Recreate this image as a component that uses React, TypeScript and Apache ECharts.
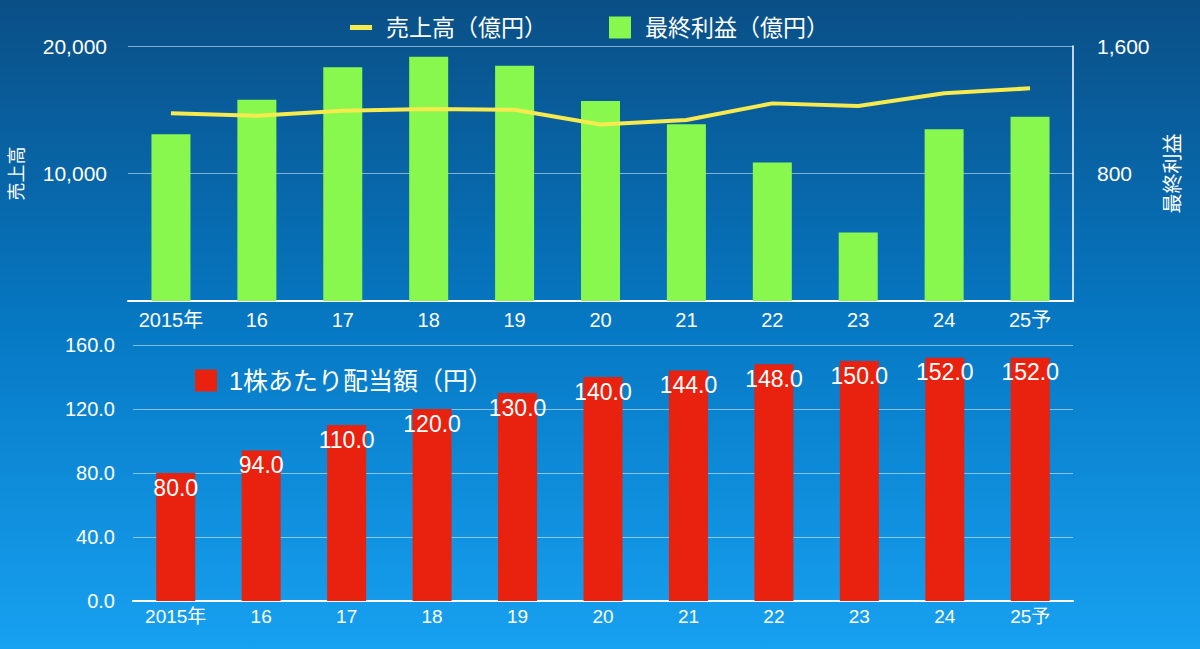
import React, { useEffect, useRef } from "react";
import * as echarts from "echarts";

const years = ["2015年", "16", "17", "18", "19", "20", "21", "22", "23", "24", "25予"];
const salesOku = [14720, 14530, 14930, 15050, 15000, 13850, 14190, 15500, 15300, 16300, 16680];
const profitOku = [1047, 1263, 1466, 1533, 1476, 1255, 1109, 869, 430, 1077, 1156];
const dividendYen = [80, 94, 110, 120, 130, 140, 144, 148, 150, 152, 152];

const salesName = "売上高（億円）";
const profitName = "最終利益（億円）";
const dividendName = "1株あたり配当額（円）";

const FONT = "'Liberation Sans', 'Noto Sans CJK JP', sans-serif";
const WHITE = "#ffffff";
const GRID_LINE = "rgba(255,255,255,0.5)";

export default function App() {
  const ref = useRef<HTMLDivElement>(null);

  useEffect(() => {
    if (!ref.current) return;
    const chart = echarts.init(ref.current, undefined, { renderer: "svg" });
    const option: any = {
      animation: false,
      backgroundColor: {
        type: "linear",
        x: 0,
        y: 0,
        x2: 0,
        y2: 1,
        colorStops: [
          { offset: 0, color: "#0a4f86" },
          { offset: 0.5, color: "#0678c3" },
          { offset: 1, color: "#17a1f1" },
        ],
      },
      textStyle: { fontFamily: FONT },
      legend: [
        {
          data: [{ name: salesName, icon: "path://M0,0H22V5H0Z" }],
          left: 345,
          top: 11,
          itemWidth: 22,
          itemHeight: 22,
          textStyle: { color: WHITE, fontSize: 23, fontFamily: FONT, padding: [0, 0, 0, 9] },
        },
        {
          data: [{ name: profitName, icon: "rect" }],
          left: 604,
          top: 11,
          itemWidth: 22,
          itemHeight: 22,
          textStyle: { color: WHITE, fontSize: 23, fontFamily: FONT, padding: [0, 0, 0, 9] },
        },
        {
          data: [{ name: dividendName, icon: "rect" }],
          left: 190,
          top: 363,
          itemWidth: 22,
          itemHeight: 22,
          textStyle: { color: WHITE, fontSize: 25, fontFamily: FONT, padding: [0, 0, 0, 7] },
        },
      ],
      grid: [
        { left: 128, right: 127, top: 46, bottom: 348 },
        { left: 133, right: 127, top: 345, bottom: 48 },
      ],
      xAxis: [
        {
          type: "category",
          gridIndex: 0,
          data: years,
          axisLine: { show: true, lineStyle: { color: WHITE, width: 2 } },
          axisTick: { show: false },
          axisLabel: { color: WHITE, fontSize: 20, fontFamily: FONT, margin: 9, interval: 0 },
        },
        {
          type: "category",
          gridIndex: 1,
          data: years,
          axisLine: { show: true, lineStyle: { color: WHITE, width: 2 } },
          axisTick: { show: false },
          axisLabel: { color: WHITE, fontSize: 19, fontFamily: FONT, margin: 6, interval: 0 },
        },
      ],
      yAxis: [
        {
          type: "value",
          gridIndex: 0,
          min: 0,
          max: 20000,
          interval: 10000,
          name: "売上高",
          nameLocation: "middle",
          nameRotate: 90,
          nameGap: 102,
          nameTextStyle: { color: WHITE, fontSize: 18, fontFamily: FONT },
          axisLine: { show: false },
          axisTick: { show: false },
          axisLabel: {
            color: WHITE,
            fontSize: 21,
            fontFamily: FONT,
            margin: 21,
            showMinLabel: false,
            formatter: (v: number) => (v === 0 ? "" : v.toLocaleString("en-US")),
          },
          splitLine: { show: true, lineStyle: { color: GRID_LINE, width: 1 } },
        },
        {
          type: "value",
          gridIndex: 0,
          position: "right",
          min: 0,
          max: 1600,
          interval: 800,
          name: "最終利益",
          nameLocation: "middle",
          nameRotate: 90,
          nameGap: 90,
          nameTextStyle: { color: WHITE, fontSize: 20, fontFamily: FONT },
          axisLine: { show: true, lineStyle: { color: WHITE, width: 1.5 } },
          axisTick: { show: false },
          axisLabel: {
            color: WHITE,
            fontSize: 21,
            fontFamily: FONT,
            margin: 24,
            showMinLabel: false,
            formatter: (v: number) => (v === 0 ? "" : v.toLocaleString("en-US")),
          },
          splitLine: { show: false },
        },
        {
          type: "value",
          gridIndex: 1,
          min: 0,
          max: 160,
          interval: 40,
          axisLine: { show: false },
          axisTick: { show: false },
          axisLabel: {
            color: WHITE,
            fontSize: 20,
            fontFamily: FONT,
            margin: 18,
            formatter: (v: number) => v.toFixed(1),
          },
          splitLine: { show: true, lineStyle: { color: GRID_LINE, width: 1 } },
        },
      ],
      series: [
        {
          name: profitName,
          type: "bar",
          xAxisIndex: 0,
          yAxisIndex: 1,
          data: profitOku,
          barWidth: 39,
          itemStyle: { color: "#88f84e" },
        },
        {
          name: salesName,
          type: "line",
          xAxisIndex: 0,
          yAxisIndex: 0,
          data: salesOku,
          symbol: "none",
          lineStyle: { color: "#f6ea4f", width: 4 },
          itemStyle: { color: "#f6ea4f" },
          z: 5,
        },
        {
          name: dividendName,
          type: "bar",
          xAxisIndex: 1,
          yAxisIndex: 2,
          data: dividendYen,
          barWidth: 39,
          itemStyle: { color: "#e8220e" },
          label: {
            show: true,
            position: "insideTop",
            distance: 3,
            color: WHITE,
            fontSize: 23,
            fontFamily: FONT,
            formatter: (p: any) => Number(p.value).toFixed(1),
          },
        },
      ],
    };
    chart.setOption(option);
    return () => chart.dispose();
  }, []);

  return (
    <div
      ref={ref}
      style={{ position: "fixed", left: 0, top: 0, width: 1200, height: 649 }}
    />
  );
}
